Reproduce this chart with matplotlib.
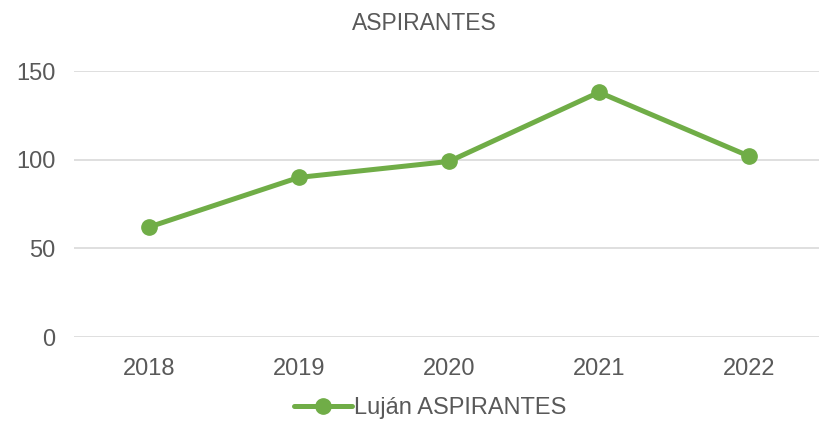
import matplotlib
matplotlib.use("Agg")
import matplotlib.pyplot as plt

years = ["2018", "2019", "2020", "2021", "2022"]
values = [62, 90, 99, 138, 102]
series_name = "Luján ASPIRANTES"
title = "ASPIRANTES"

plt.rcParams['font.family'] = ['Liberation Sans', 'DejaVu Sans']
txt = "#595959"
green = "#70AD47"

fig = plt.figure(figsize=(8.19, 4.21), dpi=100)
ax = fig.add_axes([74/819, 1-337/421, (824-74)/819, (337-71)/421])
x = list(range(len(years)))
ax.plot(x, values, color=green, lw=3.6, marker='o', markersize=11, label=series_name, solid_capstyle='round')
ax.set_xlim(-0.5, 4.5)
ax.set_ylim(0, 150)
ax.set_yticks([0, 50, 100, 150])
ax.set_xticks(x)
ax.set_xticklabels(years)
ax.grid(axis='y', color='#D9D9D9', lw=1.2)
ax.set_axisbelow(True)
for s in ax.spines.values():
    s.set_visible(False)
ax.tick_params(axis='both', length=0, labelsize=17, labelcolor=txt)
ax.tick_params(axis='y', pad=13.5)
ax.tick_params(axis='x', pad=15)
fig.text(424/819, 1-23/421, title, ha='center', va='center', fontsize=16.5, color=txt)
leg = fig.legend(loc='center', bbox_to_anchor=(430/819, 1-408/421), frameon=False,
                 fontsize=17, labelcolor=txt, handlelength=2.45, handletextpad=0.1)
fig.savefig("out.png", dpi=100)
